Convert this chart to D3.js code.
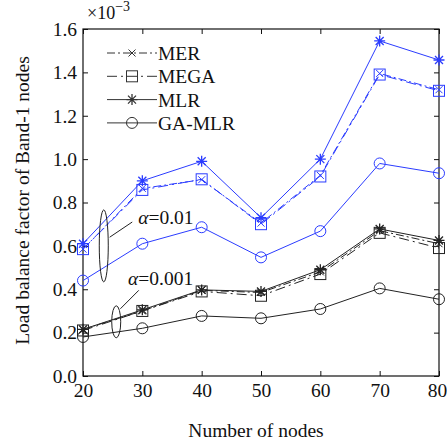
<!DOCTYPE html>
<html>
<head>
<meta charset="utf-8">
<script src="https://cdn.jsdelivr.net/npm/d3@7"></script>
<style>
  body { margin: 0; background: #fff; }
  text { font-family: "Liberation Serif", "Times New Roman", serif; }
</style>
</head>
<body>
<div id="chart"></div>
<script>
// ---- data (values in units of 1e-3) ----
const nodes = [20, 30, 40, 50, 60, 70, 80];
const yTicks = [0.0, 0.2, 0.4, 0.6, 0.8, 1.0, 1.2, 1.4, 1.6];

// alpha = 0.01 (blue)
const merA1 = [0.585, 0.865, 0.905, 0.705, 0.925, 1.395, 1.32];
const megaA1 = [0.585, 0.858, 0.907, 0.70, 0.92, 1.39, 1.315];
const mlrA1 = [0.61, 0.90, 0.99, 0.73, 1.00, 1.545, 1.457];
const gamlrA1 = [0.44, 0.61, 0.686, 0.547, 0.668, 0.98, 0.935];

// alpha = 0.001 (black)
const merA2 = [0.215, 0.30, 0.395, 0.385, 0.48, 0.67, 0.61];
const megaA2 = [0.21, 0.30, 0.39, 0.37, 0.47, 0.66, 0.59];
const mlrA2 = [0.215, 0.305, 0.397, 0.39, 0.49, 0.678, 0.625];
const gamlrA2 = [0.18, 0.22, 0.277, 0.266, 0.309, 0.404, 0.354];

const legendNames = ['MER', 'MEGA', 'MLR', 'GA-MLR'];

const blue = '#2b3cff';
const black = '#222';

const styles = {
  MER: { dash: '8,3,2,3', marker: 'times' },
  MEGA: { dash: '10,4,2,4', marker: 'square' },
  MLR: { dash: null, marker: 'asterisk' },
  'GA-MLR': { dash: null, marker: 'circle' }
};

const series = [
  { name: 'GA-MLR', values: gamlrA1, color: blue },
  { name: 'MEGA', values: megaA1, color: blue },
  { name: 'MER', values: merA1, color: blue },
  { name: 'MLR', values: mlrA1, color: blue },
  { name: 'GA-MLR', values: gamlrA2, color: black },
  { name: 'MEGA', values: megaA2, color: black },
  { name: 'MER', values: merA2, color: black },
  { name: 'MLR', values: mlrA2, color: black }
];

const W = 447, H = 445;
const margin = { top: 29, right: 8, bottom: 69, left: 83 };
const width = W - margin.left - margin.right;
const height = H - margin.top - margin.bottom;
const fs = 19.5;

const svg = d3.select('#chart').append('svg')
  .attr('width', W).attr('height', H);
const g = svg.append('g')
  .attr('transform', 'translate(' + margin.left + ',' + margin.top + ')');

const x = d3.scaleLinear().domain([20, 80]).range([0, width]);
const y = d3.scaleLinear().domain([0, 1.6]).range([height, 0]);

// axes with inward ticks
const tickLen = 5;
g.append('g')
  .attr('transform', 'translate(0,' + height + ')')
  .call(d3.axisBottom(x).tickValues(nodes).tickSize(-tickLen).tickPadding(7).tickFormat(d3.format('d')))
  .call(a => a.select('.domain').remove())
  .selectAll('text').attr('font-size', fs).attr('fill', '#111')
  // keep the last label inside the window
  .attr('dx', d => d === 80 ? -2 : 0);
g.append('g')
  .call(d3.axisLeft(y).tickValues(yTicks).tickSize(-tickLen).tickPadding(6).tickFormat(d3.format('.1f')))
  .call(a => a.select('.domain').remove())
  .selectAll('text').attr('font-size', fs).attr('fill', '#111');
g.append('g')
  .attr('transform', 'translate(' + width + ',0)')
  .call(d3.axisRight(y).tickValues(yTicks).tickSize(-tickLen).tickFormat(''))
  .call(a => a.select('.domain').remove());
g.append('g')
  .call(d3.axisTop(x).tickValues(nodes).tickSize(-tickLen).tickFormat(''))
  .call(a => a.select('.domain').remove());
g.selectAll('.tick line').attr('stroke', '#111');

g.append('rect')
  .attr('width', width).attr('height', height)
  .attr('fill', 'none').attr('stroke', '#111').attr('stroke-width', 1.2);

// markers
function drawMarker(sel, type, color, cx, cy) {
  if (type === 'circle') {
    sel.append('circle').attr('cx', cx).attr('cy', cy).attr('r', 5.5)
      .attr('fill', 'none').attr('stroke', color).attr('stroke-width', 1);
  } else if (type === 'square') {
    sel.append('rect').attr('x', cx - 5.5).attr('y', cy - 5.5)
      .attr('width', 11).attr('height', 11)
      .attr('fill', 'none').attr('stroke', color).attr('stroke-width', 1);
  } else if (type === 'times') {
    const s = 3.5;
    sel.append('path')
      .attr('d', `M${cx - s},${cy - s}L${cx + s},${cy + s}M${cx - s},${cy + s}L${cx + s},${cy - s}`)
      .attr('stroke', color).attr('stroke-width', 1).attr('fill', 'none');
  } else if (type === 'asterisk') {
    const s = 5.5, d = 4;
    sel.append('path')
      .attr('d', `M${cx},${cy - s}L${cx},${cy + s}M${cx - s},${cy}L${cx + s},${cy}` +
        `M${cx - d},${cy - d}L${cx + d},${cy + d}M${cx - d},${cy + d}L${cx + d},${cy - d}`)
      .attr('stroke', color).attr('stroke-width', 1.3).attr('fill', 'none');
  }
}

const line = d3.line().x((d, i) => x(nodes[i])).y(d => y(d));

series.forEach(s => {
  const st = styles[s.name];
  g.append('path')
    .datum(s.values)
    .attr('fill', 'none')
    .attr('stroke', s.color)
    .attr('stroke-width', 1)
    .attr('stroke-dasharray', st.dash)
    .attr('d', line);
  const mg = g.append('g');
  s.values.forEach((v, i) => drawMarker(mg, st.marker, s.color, x(nodes[i]), y(v)));
});

// legend
const lg = g.append('g').attr('transform', 'translate(24,24)');
legendNames.forEach((name, i) => {
  const st = styles[name];
  const yy = i * 23.3;
  lg.append('line')
    .attr('x1', 0).attr('x2', 50).attr('y1', yy).attr('y2', yy)
    .attr('stroke', '#333').attr('stroke-width', 1)
    .attr('stroke-dasharray', st.dash);
  drawMarker(lg, st.marker, '#333', 25, yy);
  lg.append('text')
    .attr('x', 51).attr('y', yy + 7)
    .attr('font-size', fs).attr('fill', '#111')
    .text(name);
});

// alpha annotations
const ann = g.append('g').attr('stroke', '#222').attr('fill', 'none').attr('stroke-width', 1);
ann.append('ellipse').attr('cx', x(23.5)).attr('cy', y(0.6)).attr('rx', 4.5).attr('ry', 36);
ann.append('line').attr('x1', x(24.5)).attr('y1', y(0.64)).attr('x2', x(28.3)).attr('y2', y(0.71));
g.append('text').attr('x', x(29.3)).attr('y', y(0.70))
  .attr('font-size', fs).attr('fill', '#111')
  .html('<tspan font-style="italic">α</tspan>=0.01');

ann.append('ellipse').attr('cx', x(25.6)).attr('cy', y(0.25)).attr('rx', 4.5).attr('ry', 16);
ann.append('line').attr('x1', x(26.3)).attr('y1', y(0.31)).attr('x2', x(29.4)).attr('y2', y(0.395));
g.append('text').attr('x', x(27.6)).attr('y', y(0.42))
  .attr('font-size', fs).attr('fill', '#111')
  .html('<tspan font-style="italic">α</tspan>=0.001');

// exponent
svg.append('text').attr('x', margin.left + 4).attr('y', 19)
  .attr('font-size', 18).attr('fill', '#111')
  .html('×10<tspan dy="-8" font-size="14">−3</tspan>');

// axis titles
svg.append('text')
  .attr('transform', 'translate(29,' + (margin.top + height / 2 - 2) + ') rotate(-90)')
  .attr('text-anchor', 'middle').attr('font-size', fs).attr('fill', '#111')
  .text('Load balance factor of Band-1 nodes');
svg.append('text')
  .attr('x', margin.left + width / 2 - 5).attr('y', 437)
  .attr('text-anchor', 'middle').attr('font-size', fs).attr('fill', '#111')
  .text('Number of nodes');
</script>
</body>
</html>
